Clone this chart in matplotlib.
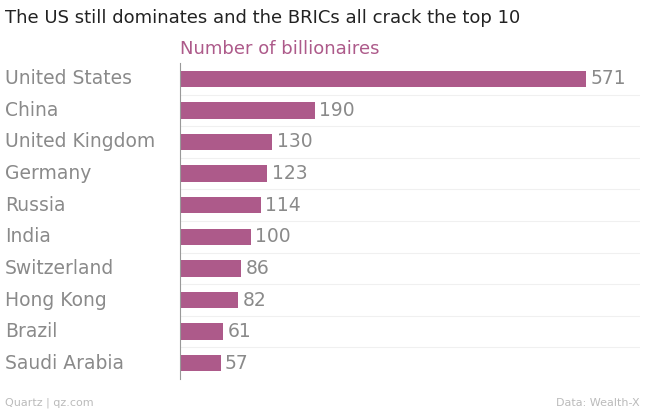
import matplotlib.pyplot as plt

countries = ["United States", "China", "United Kingdom", "Germany", "Russia",
             "India", "Switzerland", "Hong Kong", "Brazil", "Saudi Arabia"]
billionaires = [571, 190, 130, 123, 114, 100, 86, 82, 61, 57]

bar_color = "#ad5a8a"
label_color = "#8a8a8a"

fig = plt.figure(figsize=(6.45, 4.12), dpi=100)
ax = fig.add_axes([180 / 645, 1 - 379 / 412, 460 / 645, 316 / 412])

pos = range(len(countries))
ax.barh(pos, billionaires, height=0.52, color=bar_color)
ax.set_xlim(0, 571 * 460 / 406)
ax.set_ylim(len(countries) - 0.5, -0.5)

for i, (c, v) in enumerate(zip(countries, billionaires)):
    ax.text(v + 6, i, str(v), va="center", ha="left", fontsize=13.5, color=label_color)
    ax.text(-175 * ax.get_xlim()[1] / 460, i, c, va="center", ha="left",
            fontsize=13.5, color=label_color)
    if i > 0:
        ax.axhline(i - 0.5, color="#f0f0f0", lw=0.8, zorder=0)

ax.set_xticks([])
ax.set_yticks([])
for s in ["top", "right", "bottom"]:
    ax.spines[s].set_visible(False)
ax.spines["left"].set_color("#999999")
ax.spines["left"].set_linewidth(0.8)

fig.text(5 / 645, 1 - 18 / 412, "The US still dominates and the BRICs all crack the top 10",
         fontsize=13, color="#222222", va="center", ha="left")
fig.text(180 / 645, 1 - 49 / 412, "Number of billionaires", fontsize=13,
         color=bar_color, va="center", ha="left")
fig.text(5 / 645, 1 - 403 / 412, "Quartz | qz.com", fontsize=8, color="#bbbbbb",
         va="center", ha="left")
fig.text(640 / 645, 1 - 403 / 412, "Data: Wealth-X", fontsize=8, color="#bbbbbb",
         va="center", ha="right")

fig.savefig("out.png", dpi=100)
